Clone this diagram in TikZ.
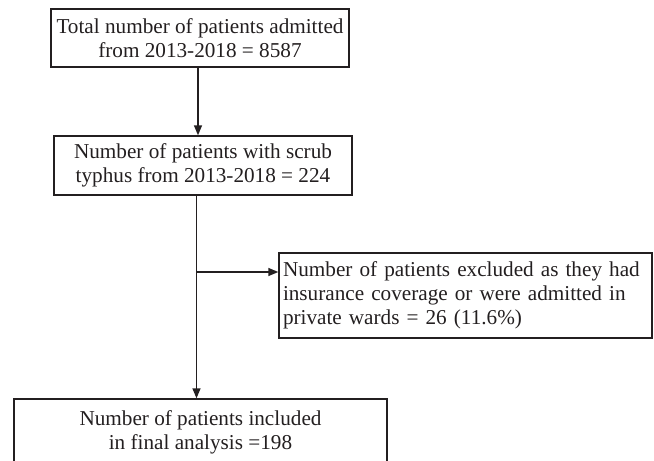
\documentclass[tikz,border=0pt]{standalone}
\usepackage{fontspec}
\setmainfont{Liberation Serif}
\usetikzlibrary{arrows.meta}
\definecolor{ink}{HTML}{231F20}
\tikzset{
  flowbox/.style={draw=ink, line width=1.4pt, rectangle, inner sep=0pt, text=ink,
    font=\fontsize{21.2}{24}\selectfont},
  conn/.style={draw=ink, line width=1.4pt},
  arr/.style={conn, -{Triangle[length=10pt,width=8pt]}}
}
\begin{document}
\begin{tikzpicture}[x=1pt,y=-1pt]
\useasboundingbox (0,0) rectangle (654,461);
\begin{scope}
\clip (0,0) rectangle (654,461);
\node[flowbox, minimum width=298pt, minimum height=58pt, align=center] (box1) at (200,38)
  {Total number of patients admitted\\from 2013-2018 = 8587};
\node[flowbox, minimum width=298pt, minimum height=59pt, align=center] (box2) at (203,165.5)
  {Number of patients with scrub\\typhus from 2013-2018 = 224};
\node[flowbox, minimum width=373pt, minimum height=85pt, text width=365pt, align=left] (box3) at (465.5,295.5)
  {Number of patients excluded as they had\\insurance coverage or were admitted in\\private wards = 26 (11.6\%)};
\node[flowbox, minimum width=373pt, minimum height=67pt, align=center] (box4) at (200.5,432.5)
  {Number of patients included\\in final analysis =198};
\coordinate (xa) at (198,0);
\coordinate (xb) at (196.5,0);
\coordinate (branch) at (196.5,272);
\draw[arr] (box1.south -| xa) -- (box2.north -| xa);
\draw[arr] (box2.south -| xb) -- (box4.north -| xb);
\draw[arr] (branch) -- (branch -| box3.west);
\end{scope}
\end{tikzpicture}
\end{document}
